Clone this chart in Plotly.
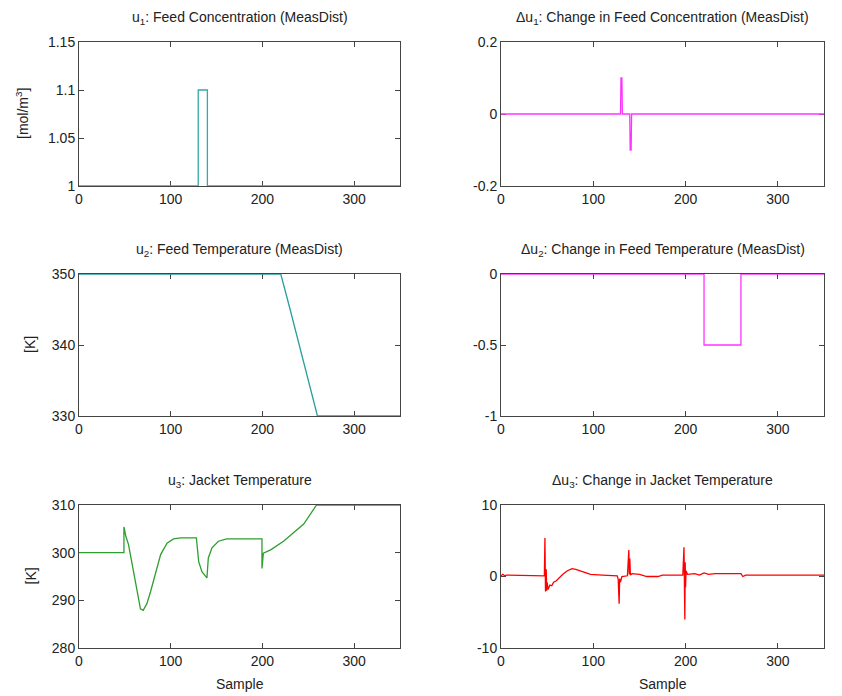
import plotly.graph_objects as go

# ---- data ----
t_u1 = [0, 130, 130, 140, 140, 350]
u1 = [1, 1, 1.1, 1.1, 1, 1]

t_du1 = [0, 129.5, 130, 131, 131.5, 139.5, 140, 141, 141.5, 350]
du1 = [0, 0, 0.1, 0.1, 0, 0, -0.1, -0.1, 0, 0]

t_u2 = [0, 220, 230, 240, 250, 260, 350]
u2 = [350, 350, 345.1, 340.0, 334.9, 330, 330]

t_du2 = [0, 220, 220, 260, 260, 350]
du2 = [0, 0, -0.5, -0.5, 0, 0]

t_u3 = [0, 49, 49, 51, 54, 60, 63.5, 67, 70, 74, 78, 83.5, 89, 96, 103, 111, 128,
        130.5, 134, 139.5, 141, 145, 152, 161, 199.5, 199.5, 201, 209, 223, 245, 259, 350]
u3 = [300, 300, 305.4, 303.5, 301.7, 295.3, 291.1, 288.2, 287.9, 289.3, 291.8, 296.0,
      299.6, 302.0, 302.9, 303.1, 303.1, 298.1, 296.0, 294.7, 298.9, 301.0, 302.4,
      302.9, 302.9, 296.7, 299.9, 300.6, 302.4, 306.0, 310, 310]

t_du3 = [0, 2, 4, 6, 47, 47.6, 48.2, 49, 49.5, 50, 51, 53, 55, 57, 60, 63, 67, 72, 77,
         81, 86, 92, 97, 110, 126, 127, 128, 128.6, 129.5, 131, 137, 138.5, 139, 139.6,
         140.2, 142, 150, 158, 170, 175, 197, 198.3, 198.8, 199.2, 199.6, 200, 200.5,
         202, 210, 215, 220, 225, 232, 240, 260, 262, 265, 350]
du3 = [0.1, 0.3, 0.1, 0.2, 0.1, 5.4, -2.1, 1.0, -2.0, -0.8, -1.8, -1.2, -1.3, -0.8,
       -0.6, -0.2, 0.3, 0.8, 1.1, 1.0, 0.8, 0.5, 0.3, 0.2, 0.1, -0.4, -3.8, -0.3, -0.8,
       0.0, 0.1, 3.7, 0.3, 2.5, 0.2, 0.4, 0.3, 0.0, 0.0, 0.2, 0.2, 4.1, -1.0, -6.0, 2.0,
       -1.5, 0.8, 0.3, 0.4, 0.2, 0.5, 0.3, 0.4, 0.4, 0.4, 0.0, 0.2, 0.2]

titles = [
    "u<sub>1</sub>: Feed Concentration (MeasDist)",
    "\u0394u<sub>1</sub>: Change in Feed Concentration (MeasDist)",
    "u<sub>2</sub>: Feed Temperature (MeasDist)",
    "\u0394u<sub>2</sub>: Change in Feed Temperature (MeasDist)",
    "u<sub>3</sub>: Jacket Temperature",
    "\u0394u<sub>3</sub>: Change in Jacket Temperature",
]
ylabels = ["[mol/m<sup>3</sup>]", None, "[K]", None, "[K]", None]
yranges = [[1, 1.15], [-0.2, 0.2], [330, 350], [-1, 0], [280, 310], [-10, 10]]
ytickvals = [[1, 1.05, 1.1, 1.15], [-0.2, 0, 0.2], [330, 340, 350], [-1, -0.5, 0],
             [280, 290, 300, 310], [-10, 0, 10]]
yticktext = [["1", "1.05", "1.1", "1.15"], ["-0.2", "0", "0.2"], ["330", "340", "350"],
             ["-1", "-0.5", "0"], ["280", "290", "300", "310"], ["-10", "0", "10"]]
xticks = [0, 100, 200, 300]

series = [(t_u1, u1, "#35a8a8"), (t_du1, du1, "#ff33ff"),
          (t_u2, u2, "#2a9d9d"), (t_du2, du2, "#ff33ff"),
          (t_u3, u3, "#2e9e2e"), (t_du3, du3, "#ff0000")]

W, H = 842, 696
xdoms = [[79 / W, 400 / W], [501 / W, 824 / W]]
rows_px = [(42, 186), (274, 416), (505, 648)]
ydoms = [[1 - b / H, 1 - t / H] for t, b in rows_px]
ylabel_x = [22 / W, 30 / W, 30 / W]

fig = go.Figure()
font = dict(family="Liberation Sans, Arial, sans-serif", size=14, color="#222")
layout = dict(width=W, height=H, margin=dict(l=0, r=0, t=0, b=0, pad=0, autoexpand=False),
              paper_bgcolor="white", plot_bgcolor="white", showlegend=False,
              font=font)
annotations = []
for i in range(6):
    r, c = divmod(i, 2)
    n = i + 1
    xa = "x" if n == 1 else f"x{n}"
    ya = "y" if n == 1 else f"y{n}"
    t, v, col = series[i]
    fig.add_trace(go.Scatter(x=t, y=v, mode="lines", line=dict(color=col, width=1.3),
                             xaxis=xa, yaxis=ya, hoverinfo="skip"))
    axcommon = dict(showgrid=False, zeroline=False, showline=True, linecolor="#444",
                    linewidth=1, mirror="ticks", ticks="inside", ticklen=5,
                    tickcolor="#444", tickfont=dict(size=14, color="#222"),
                    layer="below traces", automargin=False)
    layout["xaxis" if n == 1 else f"xaxis{n}"] = dict(
        domain=xdoms[c], range=[0, 350], tickvals=xticks, anchor=ya, **axcommon)
    layout["yaxis" if n == 1 else f"yaxis{n}"] = dict(
        domain=ydoms[r], range=yranges[i], tickvals=ytickvals[i], ticktext=yticktext[i],
        anchor=xa, **axcommon)
    xc = (xdoms[c][0] + xdoms[c][1]) / 2
    annotations.append(dict(text=titles[i], x=xc, y=ydoms[r][1], xref="paper", yref="paper",
                            xanchor="center", yanchor="middle", yshift=24, showarrow=False,
                            font=dict(size=14, color="#222")))
    if ylabels[i]:
        annotations.append(dict(text=ylabels[i], x=ylabel_x[r], y=sum(ydoms[r]) / 2,
                                xref="paper", yref="paper", xanchor="center",
                                yanchor="middle", textangle=-90, showarrow=False,
                                font=dict(size=14, color="#222")))
    if r == 2:
        annotations.append(dict(text="Sample", x=xc, y=1 - 684 / H, xref="paper",
                                yref="paper", xanchor="center", yanchor="middle",
                                showarrow=False, font=dict(size=14, color="#222")))
layout["annotations"] = annotations
fig.update_layout(**layout)
fig.write_html("out.html")
